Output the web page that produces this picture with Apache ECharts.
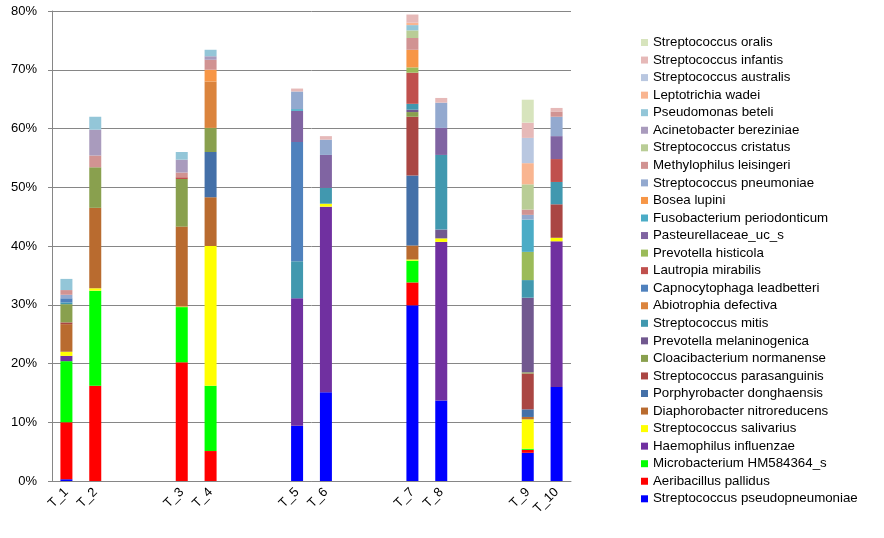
<!DOCTYPE html>
<html>
<head>
    <meta charset="utf-8">
    <title>ECharts</title>
    <script src="https://cdn.jsdelivr.net/npm/echarts@6/dist/echarts.min.js"></script>
</head>
<body style="margin:0">
    <div id="main" style="width: 884px;height:538px;"></div>
    <script type="text/javascript">
        // x categories (blank slots keep the groups apart)
        var categories = ['T_1', 'T_2', '', '', 'T_3', 'T_4', '', '', 'T_5', 'T_6', '', '', 'T_7', 'T_8', '', '', 'T_9', 'T_10'];
        var samples = ['T_1', 'T_2', 'T_3', 'T_4', 'T_5', 'T_6', 'T_7', 'T_8', 'T_9', 'T_10'];
        var yTicks = [0, 10, 20, 30, 40, 50, 60, 70, 80];

        // series names, bottom of the stack first
        var species = [
            'Streptococcus pseudopneumoniae', 'Aeribacillus pallidus', 'Microbacterium HM584364_s',
            'Haemophilus influenzae', 'Streptococcus salivarius', 'Diaphorobacter nitroreducens',
            'Porphyrobacter donghaensis', 'Streptococcus parasanguinis', 'Cloacibacterium normanense',
            'Prevotella melaninogenica', 'Streptococcus mitis', 'Abiotrophia defectiva',
            'Capnocytophaga leadbetteri', 'Lautropia mirabilis', 'Prevotella histicola',
            'Pasteurellaceae_uc_s', 'Fusobacterium periodonticum', 'Bosea lupini',
            'Streptococcus pneumoniae', 'Methylophilus leisingeri', 'Streptococcus cristatus',
            'Acinetobacter bereziniae', 'Pseudomonas beteli', 'Leptotrichia wadei',
            'Streptococcus australis', 'Streptococcus infantis', 'Streptococcus oralis'
        ];

        // relative abundance (%), one value per sample T_1..T_10
        var pseudopneumoniae = [0.3, 0, 0, 0, 9.4, 15.1, 29.9, 13.7, 4.8, 16.0];
        var aeribacillus     = [9.7, 16.2, 20.2, 5.1, 0, 0, 3.9, 0, 0.5, 0];
        var microbacterium   = [10.4, 16.2, 9.4, 11.1, 0, 0, 3.7, 0, 0.2, 0];
        var haemophilus      = [0.9, 0, 0, 0, 21.7, 31.6, 0, 27.0, 0, 24.8];
        var salivarius       = [0.7, 0.4, 0.1, 23.8, 0, 0.5, 0.2, 0.6, 5.0, 0.6];
        var diaphorobacter   = [4.7, 13.7, 13.6, 8.3, 0, 0, 2.4, 0, 0.4, 0];
        var porphyrobacter   = [0, 0, 0, 7.7, 0, 0, 11.9, 0, 1.3, 0];
        var parasanguinis    = [0.3, 0, 0, 0, 0, 0, 10.0, 0, 6.1, 5.7];
        var cloacibacterium  = [3.1, 6.9, 8.1, 4.1, 0, 0, 0.8, 0, 0.2, 0];
        var melaninogenica   = [0, 0, 0, 0, 0, 0, 0.4, 1.5, 12.7, 0];
        var mitis            = [0.3, 0, 0, 0, 6.3, 2.7, 1.0, 12.7, 3.0, 3.8];
        var abiotrophia      = [0, 0, 0, 7.9, 0, 0, 0, 0, 0, 0];
        var capnocytophaga   = [0.7, 0, 0, 0, 20.3, 0, 0, 0, 0, 0];
        var lautropia        = [0, 0, 0.3, 0, 0, 0, 5.3, 0, 0, 3.9];
        var histicola        = [0, 0, 0, 0, 0, 0, 0.9, 0, 4.8, 0];
        var pasteurellaceae  = [0, 0, 0, 0, 5.3, 5.6, 0, 4.6, 0, 3.9];
        var fusobacterium    = [0, 0, 0, 0, 0.3, 0, 0, 0, 5.5, 0];
        var bosea            = [0, 0, 0, 2.0, 0, 0, 3.0, 0, 0, 0];
        var pneumoniae       = [0.6, 0, 0, 0, 3.0, 2.6, 0, 4.3, 0.8, 3.3];
        var methylophilus    = [0.8, 2.0, 0.8, 1.7, 0, 0, 2.0, 0, 0.9, 0.9];
        var cristatus        = [0, 0, 0, 0, 0, 0, 1.3, 0, 4.3, 0];
        var acinetobacter    = [0, 4.4, 2.2, 0.6, 0, 0, 0, 0, 0, 0];
        var pseudomonas      = [1.9, 2.2, 1.3, 1.1, 0, 0, 0.9, 0, 0, 0];
        var leptotrichia     = [0, 0, 0, 0, 0, 0, 0.4, 0, 3.6, 0];
        var australis        = [0, 0, 0, 0, 0, 0, 0, 0, 4.3, 0];
        var infantis         = [0, 0, 0, 0, 0.5, 0.6, 1.4, 0.8, 2.6, 0.6];
        var oralis           = [0, 0, 0, 0, 0, 0, 0, 0, 3.9, 0];

        var values = [
            pseudopneumoniae, aeribacillus, microbacterium, haemophilus, salivarius, diaphorobacter,
            porphyrobacter, parasanguinis, cloacibacterium, melaninogenica, mitis, abiotrophia,
            capnocytophaga, lautropia, histicola, pasteurellaceae, fusobacterium, bosea,
            pneumoniae, methylophilus, cristatus, acinetobacter, pseudomonas, leptotrichia,
            australis, infantis, oralis
        ];

        var colors = [
            '#0000FF', '#FF0000', '#00FF00', '#7030A0', '#FFFF00', '#B96B2F',
            '#4470A8', '#AA4643', '#89A04E', '#71588F', '#4198AF', '#DB843D',
            '#4F81BD', '#C0504D', '#9BBB59', '#8064A2', '#4BACC6', '#F79646',
            '#93A9CF', '#D19392', '#B9CD96', '#A99BBD', '#93C6D8', '#F9B590',
            '#B9C7E0', '#E6B9B8', '#D7E4BD'
        ];

        var myChart = echarts.init(document.getElementById('main'));

        // put each sample's value into its category slot
        function toSlots(arr) {
            var out = categories.map(function () { return null; });
            samples.forEach(function (s, i) {
                out[categories.indexOf(s)] = arr[i] || null;
            });
            return out;
        }

        var series = species.map(function (name, k) {
            return {
                name: name,
                type: 'bar',
                stack: 'total',
                barWidth: 12,
                itemStyle: { color: colors[k] },
                data: toSlots(values[k])
            };
        });

        var option = {
            animation: false,
            textStyle: { fontFamily: 'Liberation Sans, Arial, sans-serif' },
            grid: { left: 52, right: 313, top: 11, bottom: 57 },
            legend: {
                orient: 'vertical',
                left: 636,
                top: 31,
                itemWidth: 7,
                itemHeight: 7,
                itemGap: 4.55,
                icon: 'rect',
                data: species.slice().reverse(),
                textStyle: { fontSize: 13.3, color: '#000', lineHeight: 13 }
            },
            xAxis: {
                type: 'category',
                data: categories,
                axisLine: { lineStyle: { color: '#868686' } },
                axisTick: { length: 5, interval: 0, lineStyle: { color: '#868686' } },
                axisLabel: { interval: 0, rotate: 45, fontSize: 13, color: '#000', margin: 9 }
            },
            yAxis: {
                type: 'value',
                min: yTicks[0],
                max: yTicks[yTicks.length - 1],
                interval: 10,
                axisLine: { show: true, lineStyle: { color: '#868686' } },
                axisTick: { show: true, length: 4, lineStyle: { color: '#868686' } },
                axisLabel: { formatter: '{value}%', fontSize: 13, color: '#000', margin: 15 },
                splitLine: { lineStyle: { color: '#868686' } }
            },
            series: series
        };

        myChart.setOption(option);
    </script>
</body>
</html>
